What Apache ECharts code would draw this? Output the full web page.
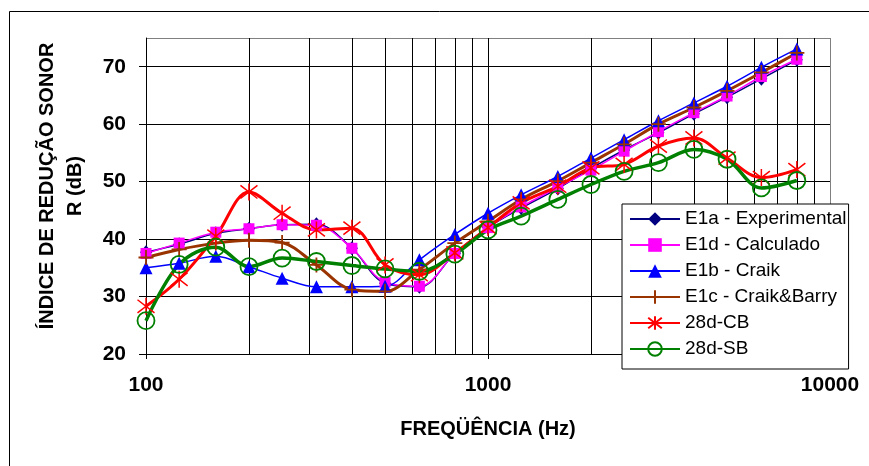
<!DOCTYPE html>
<html>
<head>
<meta charset="utf-8">
<script src="https://cdn.jsdelivr.net/npm/echarts@6/dist/echarts.min.js"></script>
<style>
  html, body { margin: 0; padding: 0; background: #fff; }
  #chart { width: 869px; height: 466px; }
</style>
</head>
<body>
<div id="chart"></div>
<script>
const freqs = [100, 125, 160, 200, 250, 315, 400, 500, 630, 800, 1000, 1250, 1600, 2000, 2500, 3150, 4000, 5000, 6300, 8000]
const minorFreqs = [200, 300, 400, 500, 600, 700, 800, 900, 2000, 3000, 4000, 5000, 6000, 7000, 8000, 9000]
const xTicks = [100, 1000, 10000]
const yTicks = [20, 30, 40, 50, 60, 70]

const e1a = [37.7, 39.1, 41.0, 41.8, 42.5, 42.6, 38.4, 32.3, 31.7, 37.5, 42.0, 45.4, 48.8, 52.3, 55.5, 58.5, 61.8, 64.7, 67.9, 71.2]
const e1d = [37.5, 39.3, 41.2, 41.8, 42.5, 42.4, 38.4, 32.5, 31.8, 37.5, 42.0, 45.6, 49.0, 52.0, 55.3, 58.7, 62.0, 64.9, 68.3, 71.3]
const e1b = [35.0, 35.8, 37.0, 35.2, 33.2, 31.7, 31.7, 31.8, 36.4, 40.8, 44.5, 47.7, 50.9, 54.1, 57.3, 60.6, 63.7, 66.6, 69.9, 73.1]
const e1c = [36.8, 38.2, 39.3, 39.8, 39.4, 35.5, 31.2, 30.9, 34.7, 39.3, 43.1, 46.9, 50.1, 53.3, 56.5, 60.0, 62.9, 65.8, 69.0, 72.4]
const cb28 = [28.3, 33.0, 40.5, 48.2, 44.5, 41.6, 41.9, 35.5, 33.8, 37.6, 42.0, 46.3, 49.2, 52.4, 53.0, 56.2, 57.6, 54.1, 50.7, 52.1]
const sb28 = [25.8, 35.6, 38.6, 35.2, 36.7, 36.1, 35.4, 34.8, 34.4, 37.4, 41.6, 44.0, 46.9, 49.5, 51.8, 53.3, 55.6, 53.9, 48.9, 50.2]

const font = 'Liberation Sans, Arial, sans-serif'
const pts = vals => freqs.map((f, i) => [f, vals[i]])

const chart = echarts.init(document.getElementById('chart'), null, { renderer: 'canvas' })

function lineSeries (name, vals, color, width, symbol, size, itemStyle) {
  return {
    name: name,
    type: 'line',
    data: pts(vals),
    smooth: 0.35,
    symbol: symbol,
    symbolSize: size,
    lineStyle: { color: color, width: width },
    itemStyle: itemStyle || { color: color },
    emphasis: { disabled: true },
    animation: false
  }
}

chart.setOption({
  backgroundColor: '#fff',
  textStyle: { fontFamily: font },
  grid: { left: 146, right: 39, top: 38, bottom: 112, show: false },
  graphic: [
    {
      type: 'polyline',
      shape: { points: [[9.5, 466], [9.5, 11.5], [869, 11.5]] },
      style: { stroke: '#000', lineWidth: 1, fill: null },
      silent: true
    },
    {
      type: 'text',
      x: 61,
      y: 186,
      rotation: Math.PI / 2,
      style: {
        text: 'ÍNDICE DE REDUÇÃO SONOR\nR (dB)',
        font: 'bold 20px ' + font,
        fill: '#000',
        align: 'center',
        verticalAlign: 'middle',
        lineHeight: 28
      },
      silent: true
    }
  ],
  legend: {
    orient: 'vertical',
    left: 622,
    top: 204,
    padding: [4, 2, 9, 7],
    itemWidth: 50,
    itemHeight: 17,
    itemGap: 4,
    backgroundColor: '#fff',
    borderColor: '#000',
    borderWidth: 1,
    borderRadius: 0,
    data: ['E1a - Experimental', 'E1d - Calculado', 'E1b - Craik', 'E1c - Craik&Barry', '28d-CB', '28d-SB'],
    textStyle: { fontSize: 19, color: '#000', fontFamily: font, lineHeight: 22 },
    selectedMode: false
  },
  xAxis: {
    type: 'log',
    logBase: 10,
    min: xTicks[0],
    max: xTicks[xTicks.length - 1],
    name: 'FREQÜÊNCIA (Hz)',
    nameLocation: 'middle',
    nameGap: 65,
    nameTextStyle: { fontSize: 20, fontWeight: 'bold', color: '#000', fontFamily: font },
    axisLine: { show: true, lineStyle: { color: '#000', width: 1 } },
    axisTick: { show: true, length: 5, lineStyle: { color: '#000' } },
    axisLabel: {
      fontSize: 21, fontWeight: 'bold', color: '#000', margin: 21,
      formatter: v => String(Math.round(v))
    },
    splitLine: { show: true, lineStyle: { color: ['#000', '#000', '#808080'], width: 1 } }
  },
  yAxis: {
    type: 'value',
    min: yTicks[0],
    max: 75,
    interval: 10,
    axisLine: { show: true, lineStyle: { color: '#000', width: 1 } },
    axisTick: { show: true, length: 7, lineStyle: { color: '#000' } },
    axisLabel: {
      fontSize: 21, fontWeight: 'bold', color: '#000', margin: 20, showMaxLabel: false,
      formatter: v => (yTicks.indexOf(v) >= 0 ? String(v) : '')
    },
    splitLine: {
      show: true,
      lineStyle: { color: ['#000', '#000', '#000', '#000', '#000', '#000', '#808080'], width: 1 }
    }
  },
  series: [
    {
      type: 'line',
      data: [],
      silent: true,
      animation: false,
      markLine: {
        silent: true,
        symbol: 'none',
        animation: false,
        z: 1,
        label: { show: false },
        lineStyle: { color: '#000', width: 1, type: 'solid' },
        emphasis: { disabled: true },
        data: minorFreqs.map(f => ({ xAxis: f }))
      }
    },
    lineSeries('E1a - Experimental', e1a, '#000080', 1.5, 'diamond', [12, 14]),
    lineSeries('E1d - Calculado', e1d, '#ff00ff', 1.5, 'rect', 11),
    lineSeries('E1b - Craik', e1b, '#0000ff', 1.5, 'triangle', 13),
    lineSeries('E1c - Craik&Barry', e1c, '#993300', 3, 'path://M5 0L5 10M0 5L10 5', 15,
      { color: '#993300', borderColor: '#993300', borderWidth: 1.8 }),
    lineSeries('28d-CB', cb28, '#ff0000', 3, 'path://M0 0L10 10M10 0L0 10M5 -1.5L5 11.5', 17,
      { color: '#ff0000', borderColor: '#ff0000', borderWidth: 1.5 }),
    lineSeries('28d-SB', sb28, '#008000', 3.5, 'circle', 17,
      { color: 'rgba(255,255,255,0)', borderColor: '#008000', borderWidth: 1.8 })
  ]
})
</script>
</body>
</html>
